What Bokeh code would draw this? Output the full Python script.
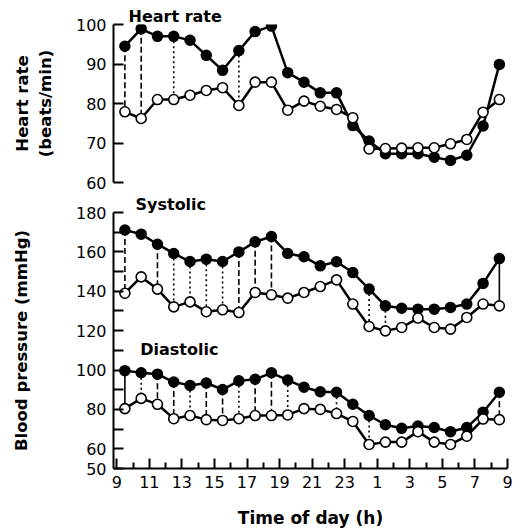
from bokeh.plotting import figure
from bokeh.models import FixedTicker, ColumnDataSource, Range1d, Label
from bokeh.layouts import column
from bokeh.embed import file_html
from bokeh.resources import INLINE

# ---- data ----
hours = [9.5, 10.5, 11.5, 12.5, 13.5, 14.5, 15.5, 16.5, 17.5, 18.5, 19.5, 20.5,
         21.5, 22.5, 23.5, 24.5, 25.5, 26.5, 27.5, 28.5, 29.5, 30.5, 31.5, 32.5]

hr_filled = [94.5, 98.9, 97.0, 97.0, 96.0, 92.2, 88.4, 93.4, 98.2, 99.6, 87.8, 85.4,
             82.7, 82.7, 74.4, 70.5, 67.3, 67.3, 67.3, 66.4, 65.6, 66.9, 74.3, 89.9]
hr_open = [77.9, 76.2, 81.0, 81.0, 82.1, 83.3, 84.0, 79.5, 85.4, 85.4, 78.3, 80.6,
           79.3, 78.5, 76.4, 68.5, 68.6, 68.7, 68.8, 68.8, 69.8, 70.9, 77.8, 81.0]
hr_conn = ["dash", "dash", "", "dot", "", "", "", "dot", "", "", "", "",
           "", "", "", "", "", "", "", "", "", "", "", ""]

sys_filled = [171.1, 169.0, 163.9, 159.2, 155.1, 156.3, 155.1, 160.0, 165.1, 167.8, 159.2, 157.5,
              152.9, 155.0, 149.5, 141.1, 132.6, 131.4, 130.9, 130.9, 131.8, 133.5, 144.0, 156.6]
sys_open = [139.0, 147.3, 141.1, 132.1, 134.6, 129.6, 130.6, 129.2, 139.4, 138.2, 136.5, 139.4,
            142.4, 145.8, 133.5, 122.1, 119.9, 121.6, 126.4, 121.6, 120.8, 126.7, 133.5, 132.6]
sys_conn = ["dash", "", "dash", "dot", "dot", "dot", "dot", "dash", "dash", "dash", "", "",
            "", "", "", "dot", "dot", "", "", "", "", "", "", "solid"]

dia_filled = [99.7, 98.6, 97.9, 93.9, 92.2, 93.4, 90.1, 94.5, 95.3, 98.6, 94.9, 91.3,
              89.0, 88.7, 82.6, 76.9, 72.2, 70.4, 71.6, 70.8, 68.7, 70.8, 78.6, 88.7]
dia_open = [80.4, 85.6, 82.6, 75.3, 76.9, 74.8, 74.4, 75.3, 76.9, 76.9, 77.2, 80.4,
            80.0, 77.9, 73.9, 62.2, 63.4, 63.4, 68.7, 63.4, 62.2, 66.4, 75.1, 74.8]
dia_conn = ["solid", "dot", "dash", "dash", "dot", "dash", "dash", "dot", "dash", "dash", "dot", "",
            "", "dot", "", "dot", "", "", "", "", "", "", "", "dash"]

x_ticks = [9, 11, 13, 15, 17, 19, 21, 23, 25, 27, 29, 31, 33]
x_tick_labels = ["9", "11", "13", "15", "17", "19", "21", "23", "1", "3", "5", "7", "9"]
x_minor = [10, 12, 14, 16, 18, 20, 22, 24, 26, 28, 30, 32]
hr_ticks = [60, 70, 80, 90, 100]
bp_ticks = [50, 60, 70, 80, 90, 100, 110, 120, 130, 140, 150, 160, 170, 180]
bp_labels = ["50", "60", "", "80", "", "100", "", "120", "", "140", "", "160", "", "180"]

FONT = "DejaVu Sans"
DASHES = {"dash": "6 3", "dot": "2 3", "solid": "solid"}

xr = Range1d(8.8, 33)


def style_axis(ax, ticks, labels=None):
    ax.ticker = FixedTicker(ticks=ticks)
    ax.axis_line_width = 2
    ax.major_tick_line_width = 2
    ax.major_tick_in = 10
    ax.major_tick_out = 0
    ax.minor_tick_line_color = None
    ax.major_label_text_font = FONT
    ax.major_label_text_font_size = "16px"
    ax.major_label_text_color = "black"
    ax.axis_label_text_font = FONT
    ax.axis_label_text_font_style = "bold"
    ax.axis_label_text_font_size = "16.5px"
    ax.axis_label_text_color = "black"
    if labels is not None:
        ax.major_label_overrides = {t: l for t, l in zip(ticks, labels)}


def style_title(p, text, offset, standoff):
    p.title.text = text
    p.title.align = "left"
    p.title.offset = offset
    p.title.standoff = standoff
    p.title.text_font = FONT
    p.title.text_font_style = "bold"
    p.title.text_font_size = "16px"
    p.title.text_color = "black"


def draw_pair(p, filled, opn, conn):
    p.line(hours, filled, line_color="black", line_width=2.5)
    p.line(hours, opn, line_color="black", line_width=2.5)
    for style, dash in DASHES.items():
        xs = [h for h, c in zip(hours, conn) if c == style]
        y0 = [f for f, c in zip(filled, conn) if c == style]
        y1 = [o for o, c in zip(opn, conn) if c == style]
        if xs:
            src = ColumnDataSource(dict(x=xs, y0=y0, y1=y1))
            p.segment(x0="x", y0="y0", x1="x", y1="y1", source=src,
                      line_color="black", line_width=1.6, line_dash=dash)
    p.scatter(hours, filled, size=10, marker="circle", fill_color="black",
              line_color="black", line_width=1.5)
    p.scatter(hours, opn, size=10, marker="circle", fill_color="white",
              line_color="black", line_width=1.6)


# ---- top panel: heart rate ----
p1 = figure(width=513, height=193, x_range=xr, y_range=Range1d(60, 100),
            output_backend="svg", toolbar_location=None, x_axis_location=None,
            min_border_left=113, min_border_right=6, min_border_top=24, min_border_bottom=11)
p1.xgrid.visible = False
p1.ygrid.visible = False
p1.outline_line_color = None
style_title(p1, "Heart rate", 15, -2)
style_axis(p1.yaxis[0], hr_ticks)
p1.yaxis[0].major_label_standoff = 7
p1.yaxis[0].axis_label = "Heart rate\n(beats/min)"
p1.yaxis[0].axis_label_standoff = 18
draw_pair(p1, hr_filled, hr_open, hr_conn)

# ---- bottom panel: blood pressure ----
p2 = figure(width=513, height=337, x_range=xr, y_range=Range1d(50, 180),
            output_backend="svg", toolbar_location=None,
            min_border_left=113, min_border_right=6, min_border_top=18, min_border_bottom=0)
p2.xgrid.visible = False
p2.ygrid.visible = False
p2.outline_line_color = None
style_title(p2, "Systolic", 22, -2)
style_axis(p2.yaxis[0], bp_ticks, bp_labels)
p2.yaxis[0].major_label_standoff = 7
p2.yaxis[0].axis_label = "Blood pressure (mmHg)"
p2.yaxis[0].axis_label_standoff = 42

xa = p2.xaxis[0]
style_axis(xa, x_ticks, x_tick_labels)
xa.ticker = FixedTicker(ticks=x_ticks, minor_ticks=x_minor)
xa.minor_tick_line_color = "black"
xa.minor_tick_line_width = 2
xa.minor_tick_in = 6
xa.minor_tick_out = 0
xa.major_label_standoff = 7
xa.axis_label = "Time of day (h)"
xa.axis_label_standoff = 17
xa.axis_label_text_font_size = "17px"

draw_pair(p2, sys_filled, sys_open, sys_conn)
draw_pair(p2, dia_filled, dia_open, dia_conn)
p2.add_layout(Label(x=10.44, y=110.5, text="Diastolic", text_font=FONT,
                    text_font_style="bold", text_font_size="16px",
                    text_baseline="alphabetic", text_color="black"))

layout = column(p1, p2)
open("out.html", "w").write(file_html(layout, INLINE))
